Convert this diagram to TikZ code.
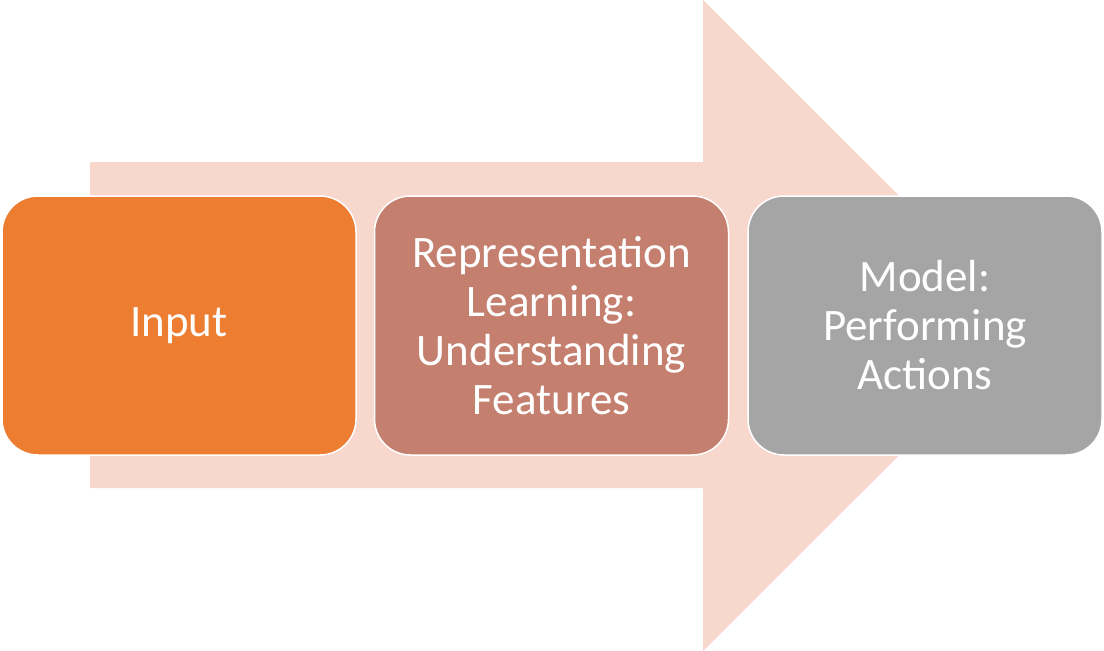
\documentclass[tikz,border=0pt]{standalone}
\usepackage{fontspec}
\setmainfont{Carlito}
\definecolor{arrowfill}{HTML}{F8D7CC}
\definecolor{inputfill}{HTML}{ED7D31}
\definecolor{reprfill}{HTML}{C47F6E}
\definecolor{modelfill}{HTML}{A5A5A5}
\tikzset{
  stagebox/.style={draw=white, line width=1.5pt, rounded corners=36pt,
    minimum width=354pt, minimum height=259pt, text width=340pt, align=center,
    text=white, inner sep=0pt,
    font=\fontsize{45}{49}\selectfont}
}
\begin{document}
\begin{tikzpicture}[x=1pt,y=-1pt]
\useasboundingbox (0,0) rectangle (1104,651);
\fill[arrowfill] (90,162) -- (703,162) -- (703,0) -- (1029,325.5) -- (703,651) -- (703,488) -- (90,488) -- cycle;
\node[stagebox, fill=inputfill] (input) at (179,325.5) {Input};
\node[stagebox, fill=reprfill] (repr) at (551.5,325.5) {Representation\\Learning:\\Understanding\\Features};
\node[stagebox, fill=modelfill] (model) at (925,325.5) {Model:\\Performing\\Actions};
\end{tikzpicture}
\end{document}
